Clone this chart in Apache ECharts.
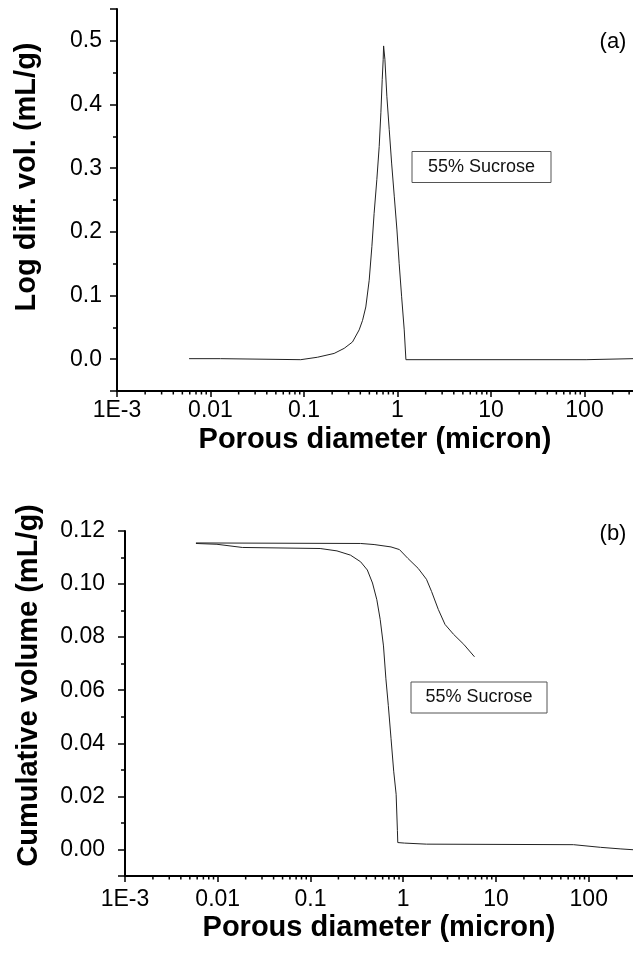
<!DOCTYPE html>
<html><head><meta charset="utf-8">
<script src="https://cdn.jsdelivr.net/npm/echarts@6/dist/echarts.min.js"></script>
<style>html,body{margin:0;padding:0;background:#fff}#c{width:633px;height:956px}</style>
</head><body><div id="c"></div>
<script>
// ---- data ----
const xTickValues = [0.001, 0.01, 0.1, 1, 10, 100];
const xTickLabels = ['1E-3', '0.01', '0.1', '1', '10', '100'];

// (a) log differential intrusion
const diamA = [0.0059, 0.0128, 0.0130, 0.0923, 0.0935, 0.139, 0.210, 0.269, 0.330, 0.389, 0.423, 0.458, 0.498, 0.532, 0.562, 0.601, 0.637, 0.664, 0.686, 0.703, 0.710, 0.733, 0.769, 0.815, 0.865, 0.923, 0.986, 1.042, 1.107, 1.180, 1.230, 104, 106, 330];
const logDiffA = [0.0008, 0.0008, -0.0008, -0.0008, 0.001, 0.003, 0.009, 0.017, 0.027, 0.046, 0.061, 0.082, 0.124, 0.177, 0.229, 0.282, 0.334, 0.387, 0.439, 0.471, 0.492, 0.471, 0.413, 0.361, 0.308, 0.256, 0.203, 0.150, 0.098, 0.046, -0.0008, -0.0008, 0.0008, 0.0008];

// (b) cumulative volume – intrusion curve
const diamB1 = [0.00582, 0.0098, 0.0102, 0.0184, 0.127, 0.193, 0.270, 0.347, 0.410, 0.466, 0.519, 0.564, 0.612, 0.650, 0.690, 0.738, 0.789, 0.838, 0.865, 0.873, 1.03, 1.78, 68.5, 134, 222, 300];
const cumB1 = [0.1153, 0.1150, 0.1147, 0.1138, 0.1134, 0.1125, 0.1109, 0.1084, 0.1053, 0.1004, 0.0941, 0.0867, 0.0767, 0.0643, 0.0543, 0.0419, 0.0295, 0.0208, 0.0071, 0.0026, 0.0024, 0.0020, 0.0018, 0.0008, 0.0002, -0.0001];
// (b) extrusion curve
const diamB2 = [0.00582, 0.347, 0.485, 0.738, 0.910, 1.12, 1.45, 1.78, 2.02, 2.39, 2.82, 3.48, 4.49, 5.86];
const cumB2 = [0.1155, 0.1153, 0.1149, 0.1140, 0.1130, 0.1097, 0.1059, 0.1018, 0.0972, 0.0904, 0.0848, 0.0811, 0.0773, 0.0726];

const annotation = '55% Sucrose';
const panelA = '(a)', panelB = '(b)';
const xTitle = 'Porous diameter (micron)';
const yTitleA = 'Log diff. vol. (mL/g)';
const yTitleB = 'Cumulative volume (mL/g)';

// ---- chart ----
const FONT = '"Liberation Sans", Arial, sans-serif';
const xMaxA = 330, xMaxB = 300;
const yRangeA = [-0.05, 0.55], yRangeB = [-0.01, 0.12];

function minorLogTicks(max) {
  const out = [];
  for (let k = -3; k <= 2; k++) for (let m = 2; m <= 9; m++) {
    const v = m * Math.pow(10, k);
    if (v < max) out.push(v);
  }
  return out;
}
function xLabel(v) {
  for (let i = 0; i < xTickValues.length; i++) {
    if (Math.abs(Math.log10(v) - Math.log10(xTickValues[i])) < 1e-6) return xTickLabels[i];
  }
  return '';
}
function xAxisCfg(grid, max, margin, gap) {
  return {
    type: 'log', logBase: 10, gridIndex: grid, min: 0.001, max: max,
    axisLine: { onZero: false, lineStyle: { color: '#000', width: 2 } },
    axisTick: { length: 6, lineStyle: { color: '#000', width: 1.5 } },
    axisLabel: { fontSize: 23, color: '#000', fontFamily: FONT, margin: margin, formatter: xLabel, showMaxLabel: false },
    splitLine: { show: false },
    name: xTitle, nameLocation: 'middle', nameGap: gap,
    nameTextStyle: { fontSize: 29, fontWeight: 'bold', color: '#000', fontFamily: FONT }
  };
}
function yAxisCfg(grid, range, digits, margin, name, gap, showMax, pad) {
  return {
    type: 'value', gridIndex: grid, min: range[0], max: range[1], splitNumber: 6,
    axisLine: { show: true, onZero: false, lineStyle: { color: '#000', width: 2 } },
    axisTick: { show: true, length: 7, lineStyle: { color: '#000', width: 1.5 } },
    minorTick: { show: true, splitNumber: 2, length: 4, lineStyle: { color: '#000', width: 1.5 } },
    splitLine: { show: false },
    axisLabel: { fontSize: 23, color: '#000', fontFamily: FONT, margin: margin,
      formatter: v => v.toFixed(digits), showMinLabel: false, showMaxLabel: showMax },
    name: name, nameLocation: 'middle', nameGap: gap,
    nameTextStyle: { fontSize: 29, fontWeight: 'bold', color: '#000', fontFamily: FONT, padding: pad }
  };
}
function minorSeries(idx, max, yMin) {
  return {
    type: 'custom', xAxisIndex: idx, yAxisIndex: idx, silent: true, clip: false,
    data: minorLogTicks(max).map(v => [v, yMin]),
    renderItem: (params, api) => {
      const p = api.coord([api.value(0), api.value(1)]);
      return { type: 'line', shape: { x1: p[0], y1: p[1], x2: p[0], y2: p[1] + 3.5 },
        style: { stroke: '#000', lineWidth: 1.5 } };
    }
  };
}
function lineSeries(idx, xs, ys) {
  return {
    type: 'line', xAxisIndex: idx, yAxisIndex: idx, showSymbol: false, symbol: 'none',
    data: xs.map((x, i) => [x, ys[i]]),
    lineStyle: { color: '#222', width: 1 }
  };
}
function boxText(cx, cy, w, h, text) {
  return [
    { type: 'rect', shape: { x: cx - w / 2, y: cy - h / 2, width: w, height: h },
      style: { fill: '#fff', stroke: '#555', lineWidth: 1 }, z: 10 },
    { type: 'text', x: cx, y: cy, z: 11,
      style: { text: text, fontSize: 18, fontFamily: FONT, fill: '#111',
        align: 'center', verticalAlign: 'middle', textAlign: 'center', textVerticalAlign: 'middle' } }
  ];
}
function label(cx, cy, text) {
  return { type: 'text', x: cx, y: cy, z: 11,
    style: { text: text, fontSize: 22, fontFamily: FONT, fill: '#000',
      align: 'center', verticalAlign: 'middle', textAlign: 'center', textVerticalAlign: 'middle' } };
}

const chart = echarts.init(document.getElementById('c'), null, { renderer: 'canvas' });
chart.setOption({
  animation: false,
  backgroundColor: '#fff',
  grid: [
    { left: 117, right: 0, top: 9, bottom: 565 },
    { left: 125, right: 0, top: 531, bottom: 80 }
  ],
  xAxis: [xAxisCfg(0, xMaxA, 8, 34), xAxisCfg(1, xMaxB, 12, 37)],
  yAxis: [
    yAxisCfg(0, yRangeA, 1, 15, yTitleA, 76, false, [0, 0, 0, 46]),
    yAxisCfg(1, yRangeB, 2, 20, yTitleB, 82, true, [0, 0, 0, 36])
  ],
  series: [
    lineSeries(0, diamA, logDiffA),
    lineSeries(1, diamB1, cumB1),
    lineSeries(1, diamB2, cumB2),
    minorSeries(0, xMaxA, yRangeA[0]),
    minorSeries(1, xMaxB, yRangeB[0])
  ],
  graphic: [
    ...boxText(481.5, 167, 139, 31, annotation),
    ...boxText(479, 697.5, 136, 31, annotation),
    label(613, 42, panelA),
    label(613, 534, panelB)
  ]
});
</script>
</body></html>
